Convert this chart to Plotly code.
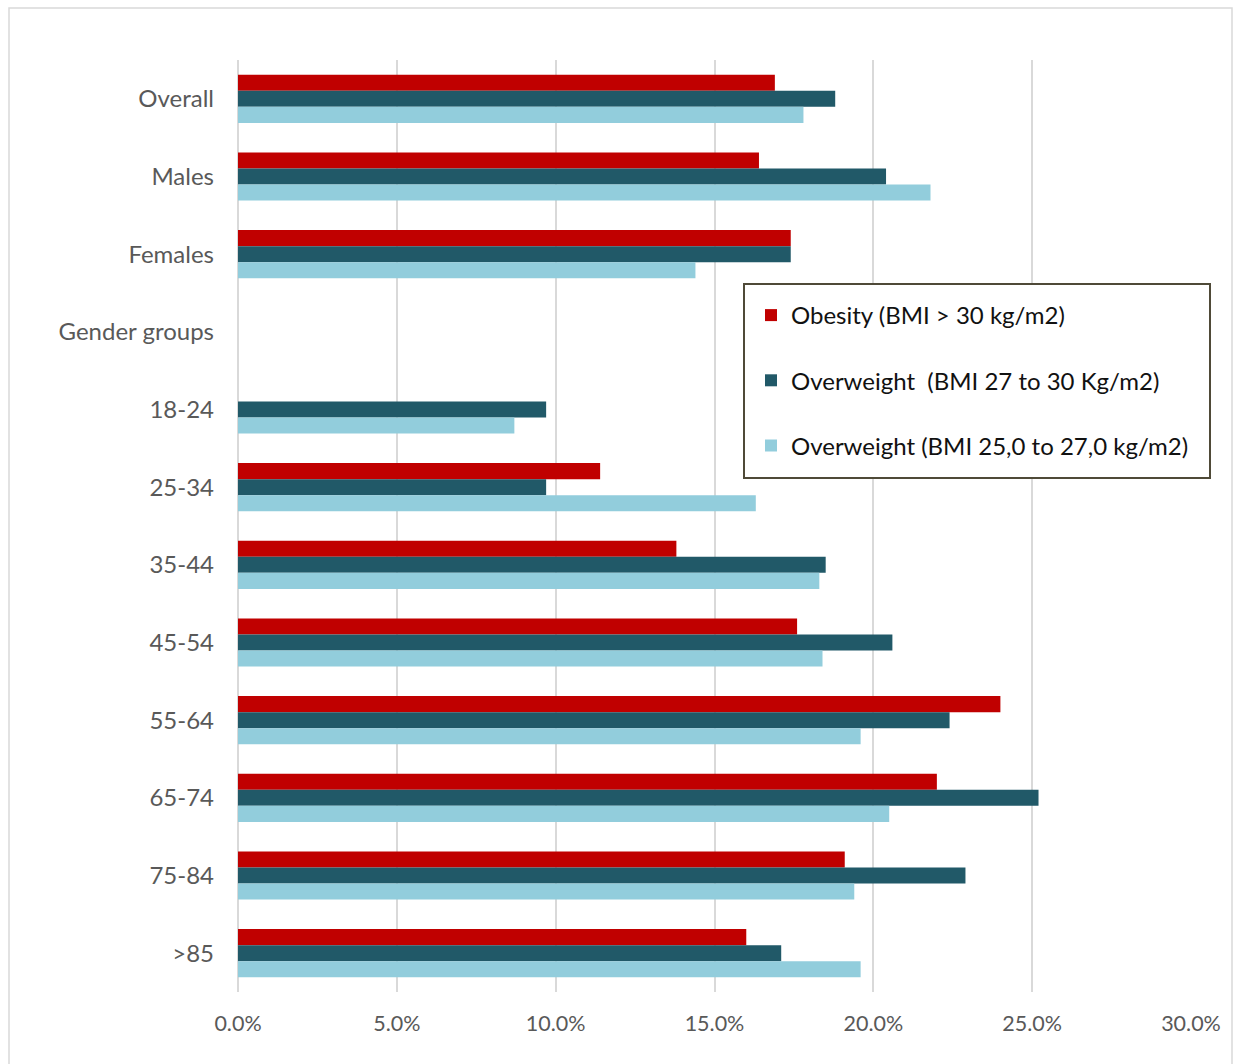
import plotly.graph_objects as go

categories = ["Overall", "Males", "Females", "Gender groups", "18-24", "25-34",
              "35-44", "45-54", "55-64", "65-74", "75-84", ">85"]
obesity = [16.9, 16.4, 17.4, None, None, 11.4, 13.8, 17.6, 24.0, 22.0, 19.1, 16.0]
overweight_27_30 = [18.8, 20.4, 17.4, None, 9.7, 9.7, 18.5, 20.6, 22.4, 25.2, 22.9, 17.1]
overweight_25_27 = [17.8, 21.8, 14.4, None, 8.7, 16.3, 18.3, 18.4, 19.6, 20.5, 19.4, 19.6]

series_names = ["Obesity (BMI > 30 kg/m2)",
                "Overweight \u00a0(BMI 27 to 30 Kg/m2)",
                "Overweight (BMI 25,0 to 27,0 kg/m2)"]
series_values = [obesity, overweight_27_30, overweight_25_27]
series_colors = ["#C00000", "#215968", "#92CDDC"]
x_ticks = [0, 5, 10, 15, 20, 25, 30]
x_tick_labels = ["0.0%", "5.0%", "10.0%", "15.0%", "20.0%", "25.0%", "30.0%"]

FONT = "Lato, 'Open Sans', sans-serif"

fig = go.Figure()
for i, (name, vals, col) in enumerate(zip(series_names, series_values, series_colors)):
    fig.add_trace(go.Bar(
        y=categories, x=vals, name=name, orientation="h",
        marker=dict(color=col, line=dict(width=0)),
        legendgroup=f"g{i}",
    ))

L, R, T, B = 238, 46, 60, 72
W, H = 1237, 1064
pw, ph = W - L - R, H - T - B


def px_x(p):
    return (p - L) / pw


def px_y(p):
    return 1 - (p - T) / ph


fig.update_layout(
    width=W, height=H,
    margin=dict(l=L, r=R, t=T, b=B),
    paper_bgcolor="white", plot_bgcolor="white",
    barmode="group", bargap=0.38, bargroupgap=0,
    font=dict(family=FONT, size=21, color="#595959"),
    showlegend=True,
    legend=dict(
        x=px_x(751), y=px_y(293), xanchor="left", yanchor="top",
        bgcolor="rgba(0,0,0,0)", borderwidth=0,
        font=dict(family=FONT, size=24, color="#111111"),
        traceorder="grouped", tracegroupgap=31,
        itemwidth=30,
    ),
    xaxis=dict(
        range=[0, 30], tickvals=x_ticks, ticktext=x_tick_labels,
        showgrid=True, gridcolor="#D9D9D9", gridwidth=1.5,
        zeroline=True, zerolinecolor="#D9D9D9", zerolinewidth=1.5,
        showline=False, ticks="", ticklabelstandoff=16,
        tickfont=dict(size=21.5, color="#595959"),
        fixedrange=True,
    ),
    yaxis=dict(
        categoryorder="array", categoryarray=categories, autorange="reversed",
        showgrid=False, showline=False, ticks="", ticklabelstandoff=23,
        tickfont=dict(size=24, color="#595959"),
        fixedrange=True,
    ),
    shapes=[
        dict(
            type="rect", xref="paper", yref="paper", layer="below",
            x0=px_x(9), x1=px_x(1232), y0=px_y(1080), y1=px_y(8),
            line=dict(color="#D9D9D9", width=1.5), fillcolor="rgba(0,0,0,0)",
        ),
        dict(
            type="rect", xref="paper", yref="paper", layer="above",
            x0=px_x(744), x1=px_x(1210), y0=px_y(478), y1=px_y(284),
            line=dict(color="#4F4A38", width=2), fillcolor="white",
        ),
    ],
)

fig.write_html("out.html")
